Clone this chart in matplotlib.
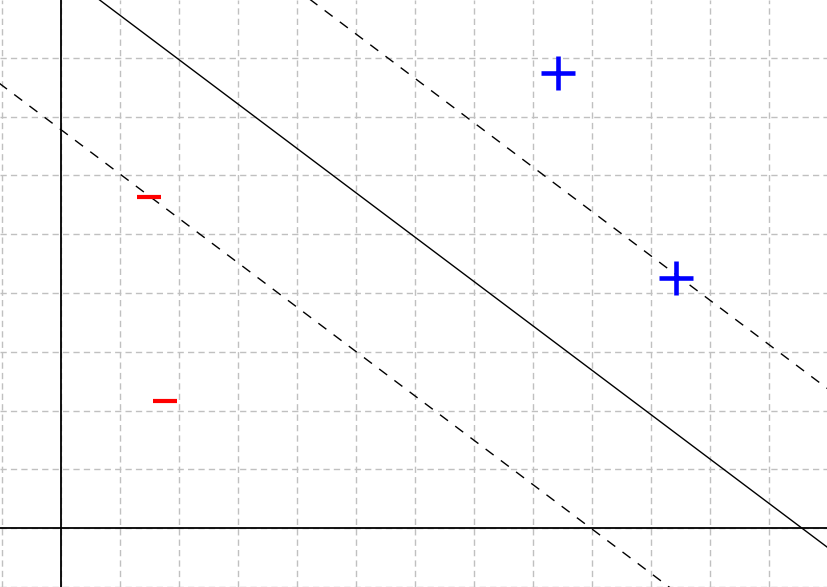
import matplotlib
matplotlib.use("Agg")
import matplotlib.pyplot as plt
import numpy as np

# data
pos_x = [8.42, 10.43]
pos_y = [7.75, 4.25]
neg_x = [1.50, 1.77]
neg_y = [5.63, 2.16]
slope = -0.755
intercepts = [9.48, 6.78, 12.18]   # decision boundary, lower margin, upper margin
line_styles = ["solid", "dashed", "dashed"]

fig = plt.figure(figsize=(8.27, 5.87), dpi=100)
ax = fig.add_axes([0, 0, 1, 1])
ax.set_xlim(-1.03, 12.98)
ax.set_ylim(-0.966, 8.983)

ax.set_xticks(np.arange(-1, 13))
ax.set_yticks(np.arange(-1, 9))
ax.grid(True, color="#c0c0c0", lw=1.0, dashes=(4.5, 3))
ax.tick_params(length=0, labelbottom=False, labelleft=False)
for s in ax.spines.values():
    s.set_visible(False)
ax.set_axisbelow(True)

ax.axhline(0, color="black", lw=1.3)
ax.axvline(0, color="black", lw=1.3)

xs = np.array([-2, 14])
for c, ls in zip(intercepts, line_styles):
    if ls == "solid":
        ax.plot(xs, slope * xs + c, color="black", lw=1.0)
    else:
        ax.plot(xs, slope * xs + c, color="black", lw=1.0, dashes=(7.2, 6.5))

ax.plot(pos_x, pos_y, linestyle="none", marker="+", color="#0000ff",
        markersize=24, markeredgewidth=3.3)
ax.plot(neg_x, neg_y, linestyle="none", marker="_", color="#ff0000",
        markersize=17.5, markeredgewidth=3.0)

fig.savefig("out.png", dpi=100)
